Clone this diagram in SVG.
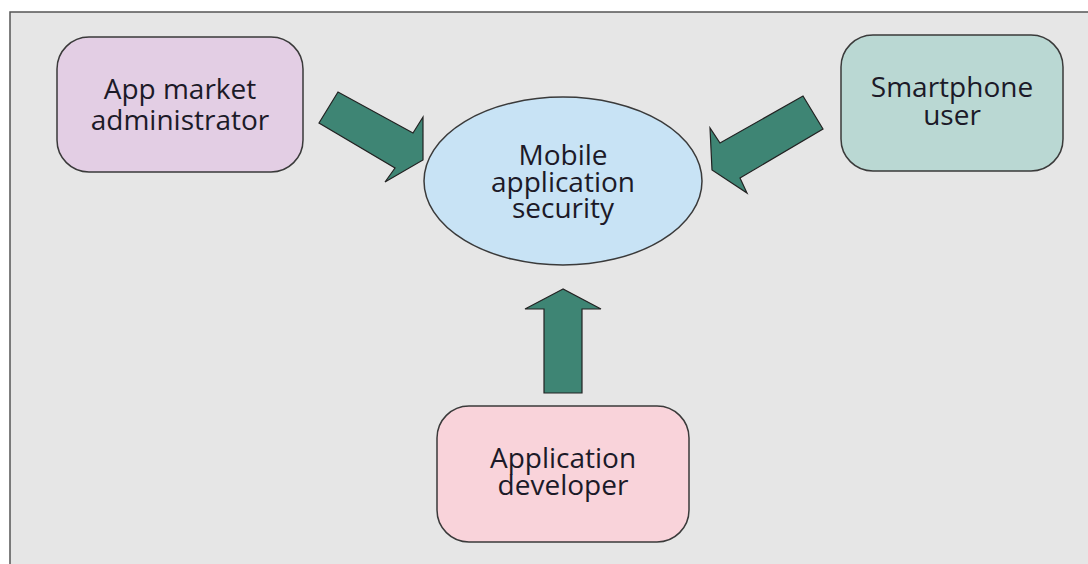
<svg xmlns="http://www.w3.org/2000/svg" width="1088" height="564" viewBox="0 0 1088 564">
<style>
.t{font-family:"Open Sans","Noto Sans",sans-serif;font-size:28px;fill:#1c1a28;text-anchor:middle}
.box{stroke:#3a3a3a;stroke-width:1.5}
.arr{fill:#3e8574;stroke:#222;stroke-width:1.2;stroke-linejoin:miter}
</style>
<rect x="0" y="0" width="1088" height="564" fill="#ffffff"/>
<rect x="10" y="12" width="1090" height="560" fill="#e6e6e6" stroke="#555" stroke-width="1.5"/>
<g id="connectors">
<polygon class="arr" points="338,92 319,123 395,168 385,182 423,160 423,117 413,133"/>
<polygon class="arr" points="803,96 823,129 740,178 747,193 712,170 710,128 720,143"/>
<polygon class="arr" points="563,289 525,309 544,309 544,393 582,393 582,309 601,309"/>
</g>
<g id="app-market-admin">
<rect class="box" x="57" y="37" width="246" height="135" rx="32" fill="#e3cee4"/>
<text class="t" x="180" y="99">App market</text>
<text class="t" x="180" y="130">administrator</text>
</g>
<g id="smartphone-user">
<rect class="box" x="841" y="35" width="222" height="136" rx="32" fill="#bad8d3"/>
<text class="t" x="952" y="97">Smartphone</text>
<text class="t" x="952" y="125">user</text>
</g>
<g id="mobile-security">
<ellipse class="box" cx="563" cy="181" rx="139" ry="84" fill="#c8e3f5"/>
<text class="t" x="563" y="165">Mobile</text>
<text class="t" x="563" y="192">application</text>
<text class="t" x="563" y="218">security</text>
</g>
<g id="app-developer">
<rect class="box" x="437" y="406" width="252" height="136" rx="32" fill="#f9d3da"/>
<text class="t" x="563" y="468">Application</text>
<text class="t" x="563" y="495">developer</text>
</g>
</svg>
